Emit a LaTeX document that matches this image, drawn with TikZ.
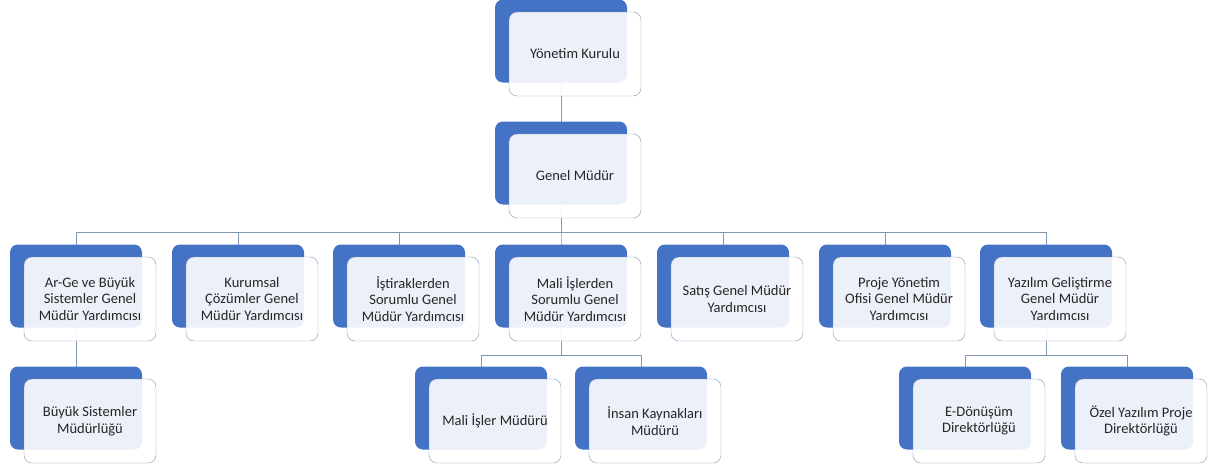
\documentclass[tikz,border=0pt]{standalone}
\usepackage{fontspec}
\setmainfont{Carlito}
\usepackage{tikz}
\usetikzlibrary{backgrounds}
\definecolor{unitblue}{HTML}{4472C4}
\definecolor{unitline}{HTML}{8396B6}
\definecolor{unittext}{HTML}{262626}
\tikzset{
  backbox/.style = {shape=rectangle, rounded corners=8pt, fill=unitblue,
                    minimum width=132pt, minimum height=83pt, inner sep=0pt},
  textbox/.style = {shape=rectangle, rounded corners=8pt, draw=unitline,
                    fill=white, fill opacity=0.9, text opacity=1,
                    align=center, text=unittext,
                    minimum width=132pt, minimum height=84pt, inner sep=0pt},
  link/.style    = {draw=unitline, line width=0.9pt}
}

\begin{document}
\begin{tikzpicture}
  [
    x                 = 1pt,
    y                 = -1pt,
    every node/.style = {font=\fontsize{14.5}{16.5}\selectfont}
  ]
  \useasboundingbox (0,0) rectangle (1212,471);

  % ust kademe
  \node [backbox] (ykb) at (561,41) {};
  \node [textbox] (yk) at ([shift={(14,13)}]ykb.center) {Yönetim Kurulu};
  \node [backbox] (gmb) at (561,163) {};
  \node [textbox] (gm) at ([shift={(14,13)}]gmb.center) {Genel Müdür};

  % genel mudur yardimcilari
  \node [backbox] (agb) at (76,286) {};
  \node [textbox] (ag) at ([shift={(14,13)}]agb.center) {Ar-Ge ve Büyük\\Sistemler Genel\\Müdür Yardımcısı};
  \node [backbox] (kub) at (238,286) {};
  \node [textbox] (ku) at ([shift={(14,13)}]kub.center) {Kurumsal\\Çözümler Genel\\Müdür Yardımcısı};
  \node [backbox] (isb) at (399,286) {};
  \node [textbox] (is) at ([shift={(14,13)}]isb.center) {İştiraklerden\\Sorumlu Genel\\Müdür Yardımcısı};
  \node [backbox] (mib) at (561,286) {};
  \node [textbox] (mi) at ([shift={(14,13)}]mib.center) {Mali İşlerden\\Sorumlu Genel\\Müdür Yardımcısı};
  \node [backbox] (sab) at (723,286) {};
  \node [textbox] (sa) at ([shift={(14,13)}]sab.center) {Satış Genel Müdür\\Yardımcısı};
  \node [backbox] (prb) at (885,286) {};
  \node [textbox] (pr) at ([shift={(14,13)}]prb.center) {Proje Yönetim\\Ofisi Genel Müdür\\Yardımcısı};
  \node [backbox] (yab) at (1046,286) {};
  \node [textbox] (ya) at ([shift={(14,13)}]yab.center) {Yazılım Geliştirme\\Genel Müdür\\Yardımcısı};

  % alt birimler
  \node [backbox] (bsb) at (76,408) {};
  \node [textbox] (bs) at ([shift={(14,13)}]bsb.center) {Büyük Sistemler\\Müdürlüğü};
  \node [backbox] (mmb) at (481,408) {};
  \node [textbox] (mm) at ([shift={(14,13)}]mmb.center) {Mali İşler Müdürü};
  \node [backbox] (ikb) at (641,408) {};
  \node [textbox] (ik) at ([shift={(14,13)}]ikb.center) {İnsan Kaynakları\\Müdürü};
  \node [backbox] (edb) at (965,408) {};
  \node [textbox] (ed) at ([shift={(14,13)}]edb.center) {E-Dönüşüm\\Direktörlüğü};
  \node [backbox] (ozb) at (1127,408) {};
  \node [textbox] (oz) at ([shift={(14,13)}]ozb.center) {Özel Yazılım Proje\\Direktörlüğü};

  \coordinate (bus1) at (561,232);
  \coordinate (bus2) at (561,355);
  \coordinate (bus3) at (1046,355);

  \begin{scope}[on background layer]
    \draw [link] (ykb.center) -- (gmb.center);
    \foreach \n in {agb,kub,isb,mib,sab,prb,yab}
      \draw [link] (gmb.center) |- (bus1) -| (\n.center);
    \draw [link] (agb.center) -- (bsb.center);
    \foreach \n in {mmb,ikb}
      \draw [link] (mib.center) |- (bus2) -| (\n.center);
    \foreach \n in {edb,ozb}
      \draw [link] (yab.center) |- (bus3) -| (\n.center);
  \end{scope}
\end{tikzpicture}
\end{document}
